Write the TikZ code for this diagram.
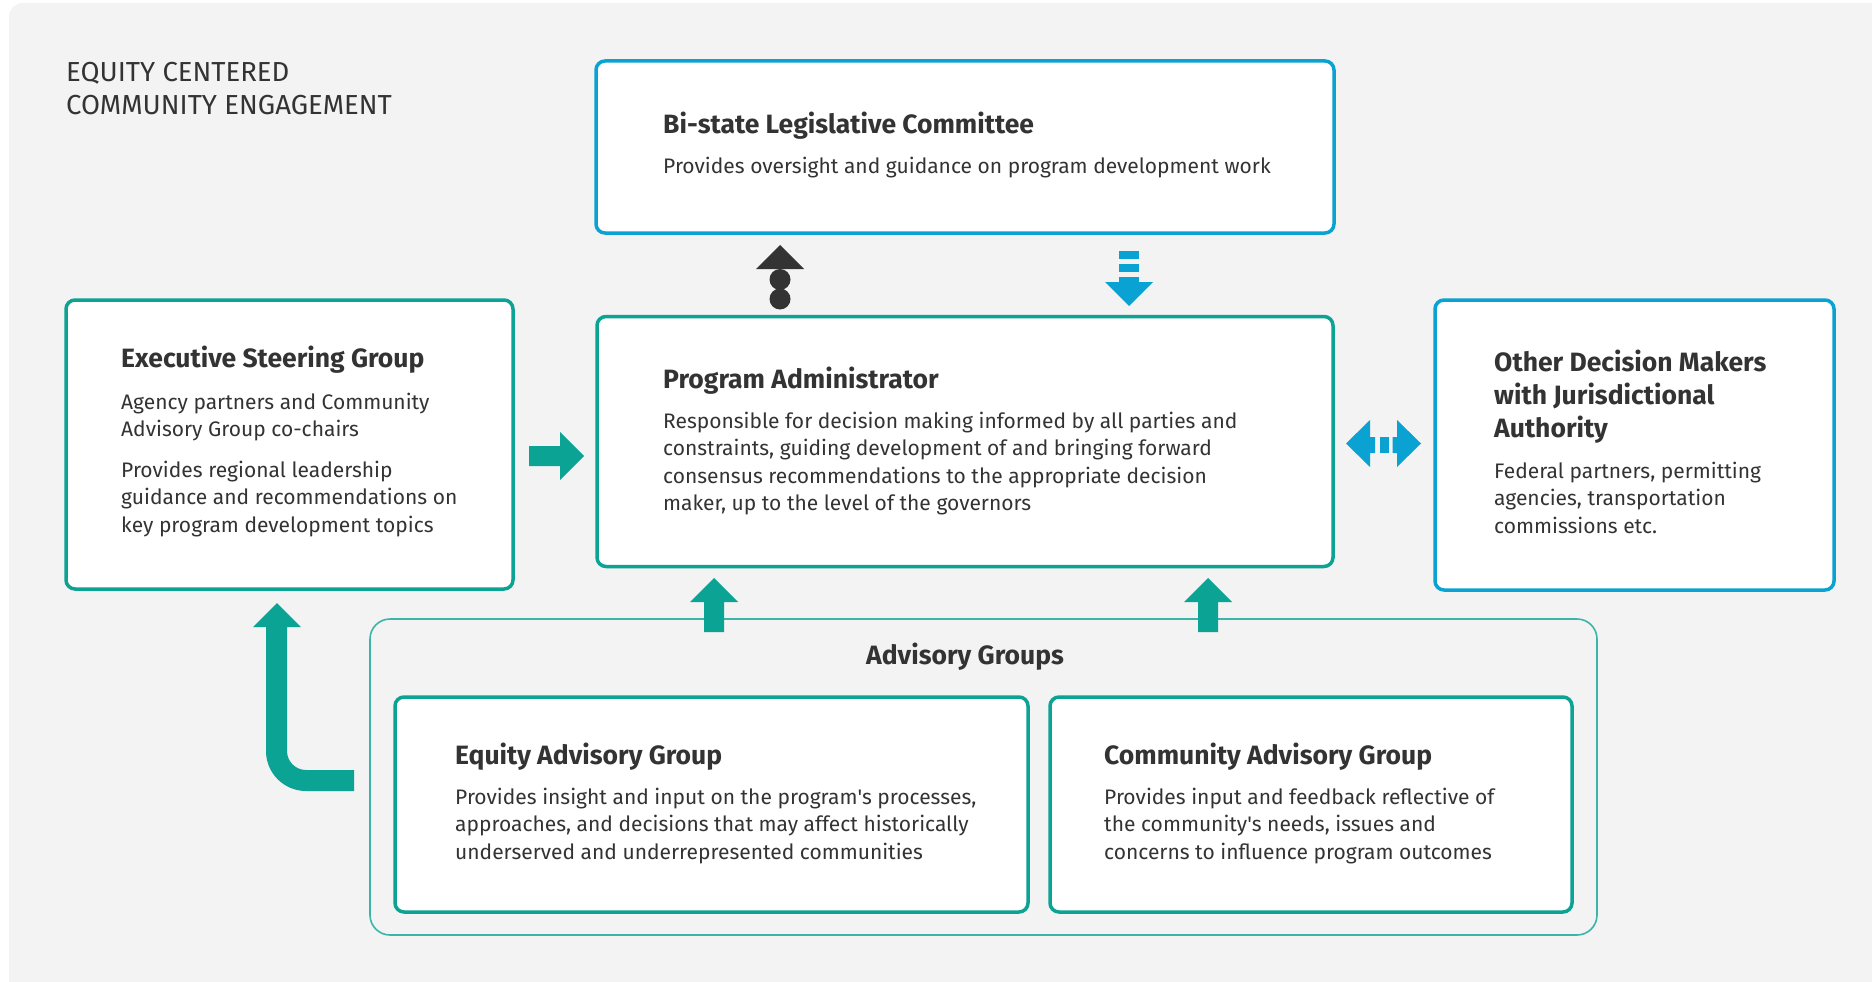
\documentclass[tikz,border=0pt]{standalone}
\usepackage{fontspec}
\setmainfont{Fira Sans}
\usetikzlibrary{calc}
\definecolor{tealc}{HTML}{0AA394}
\definecolor{bluec}{HTML}{0AA2D2}
\definecolor{ink}{HTML}{333333}
\definecolor{bgc}{HTML}{F3F3F3}
\begin{document}
\begin{tikzpicture}[x=1pt,y=-1pt,
  tealbox/.style={draw=tealc, line width=3.5pt, fill=white, rounded corners=9pt, inner sep=0pt},
  bluebox/.style={draw=bluec, line width=3.5pt, fill=white, rounded corners=9pt, inner sep=0pt},
  group/.style={draw=tealc!80, line width=1.6pt, fill=bgc, rounded corners=20pt, inner sep=0pt},
  body/.style={anchor=base west, inner sep=0pt, align=left, text=ink, font=\fontsize{21}{27.5}\selectfont},
  head/.style={anchor=base west, inner sep=0pt, align=left, text=ink, font=\bfseries\fontsize{26.5}{33}\selectfont},
  title/.style={anchor=base west, inner sep=0pt, align=left, text=ink, font=\fontsize{27.5}{33}\selectfont},
  tealarrow/.style={fill=tealc},
  bluearrow/.style={fill=bluec},
  darkarrow/.style={fill=ink}]
\useasboundingbox (0,0) rectangle (1872,982);
\fill[white] (0,0) rectangle (1872,982);
\fill[bgc, rounded corners=14pt] (9,3) rectangle (1900,1010);

% title (anchor = baseline of the last line)
\node[title] (title) at (66,114) {EQUITY CENTERED\\COMMUNITY ENGAGEMENT};

% boxes
\node[bluebox, minimum width=738pt, minimum height=172pt] (bsl) at (965,147) {};
\node[tealbox, minimum width=736pt, minimum height=250pt] (pa) at (965,441.5) {};
\node[tealbox, minimum width=447pt, minimum height=289pt] (esg) at (289.5,444.5) {};
\node[bluebox, minimum width=399pt, minimum height=290pt] (odm) at (1634.5,445) {};
\node[group, minimum width=1227pt, minimum height=316pt] (adv) at (983.5,777) {};
\node[tealbox, minimum width=633pt, minimum height=215pt] (eag) at (711.5,804.5) {};
\node[tealbox, minimum width=522pt, minimum height=215pt] (cag) at (1311,804.5) {};

% texts (multi-line nodes are placed by the baseline of their last line)
\node[head] (bslh) at (663,133) {Bi-state Legislative Committee};
\node[body] (bslb) at (663,173) {Provides oversight and guidance on program development work};

\node[head] (esgh) at (121,367) {Executive Steering Group};
\node[body] (esgb1) at (121,436.5) {Agency partners and Community\\Advisory Group co-chairs};
\node[body] (esgb2) at (121,532) {Provides regional leadership\\guidance and recommendations on\\key program development topics};

\node[head] (pah) at (663,388) {Program Administrator};
\node[body] (pab) at (663,510.5) {Responsible for decision making informed by all parties and\\constraints, guiding development of and bringing forward\\consensus recommendations to the appropriate decision\\maker, up to the level of the governors};

\node[head] (odmh) at (1494,437) {Other Decision Makers\\with Jurisdictional\\Authority};
\node[body] (odmb) at (1494,533) {Federal partners, permitting\\agencies, transportation\\commissions etc.};

\node[head, anchor=base] (advh) at (965,664) {Advisory Groups};

\node[head] (eagh) at (455,764) {Equity Advisory Group};
\node[body] (eagb) at (455,859) {Provides insight and input on the program\textquotesingle s processes,\\approaches, and decisions that may affect historically\\underserved and underrepresented communities};

\node[head] (cagh) at (1104,764) {Community Advisory Group};
\node[body] (cagb) at (1104,859) {Provides input and feedback reflective of\\the community\textquotesingle s needs, issues and\\concerns to influence program outcomes};

% ESG -> PA
\fill[tealarrow] (529,446) -- (560,446) -- (560,432) -- (584,456) -- (560,480) -- (560,466) -- (529,466) -- cycle;

% advisory -> PA (two up arrows)
\fill[tealarrow] (704,632) -- (704,602) -- (690,602) -- (714,578) -- (738,602) -- (724,602) -- (724,632) -- cycle;
\fill[tealarrow] (1198,632) -- (1198,602) -- (1184,602) -- (1208,578) -- (1232,602) -- (1218,602) -- (1218,632) -- cycle;

% PA -> Bi-state (dark)
\fill[darkarrow] (756,269) -- (780,245) -- (804,269) -- cycle;
\fill[darkarrow] (780,279.5) circle (10.5pt);
\fill[darkarrow] (780,299) circle (10.5pt);

% Bi-state -> PA (blue dashed down)
\fill[bluearrow] (1119,251) rectangle (1139,259);
\fill[bluearrow] (1119,264) rectangle (1139,272);
\fill[bluearrow] (1119,277) rectangle (1139,283);
\fill[bluearrow] (1105,282) -- (1153,282) -- (1129,306) -- cycle;

% PA <-> ODM
\fill[bluearrow] (1346,443.5) -- (1370,420) -- (1370,437) -- (1375,437) -- (1375,453) -- (1370,453) -- (1370,467) -- cycle;
\fill[bluearrow] (1379.5,437) rectangle (1388.5,453);
\fill[bluearrow] (1421,443.5) -- (1397,420) -- (1397,437) -- (1392.5,437) -- (1392.5,453) -- (1397,453) -- (1397,467) -- cycle;

% advisory -> ESG (L arrow)
\fill[tealarrow] (277,603) -- (301,627) -- (287,627) -- (287,751)
  .. controls (287,761.5) and (295.5,770) .. (306,770) -- (354,770) -- (354,791) -- (306,791)
  .. controls (283.9,791) and (266,773.1) .. (266,751) -- (266,627) -- (253,627) -- cycle;
\end{tikzpicture}
\end{document}
